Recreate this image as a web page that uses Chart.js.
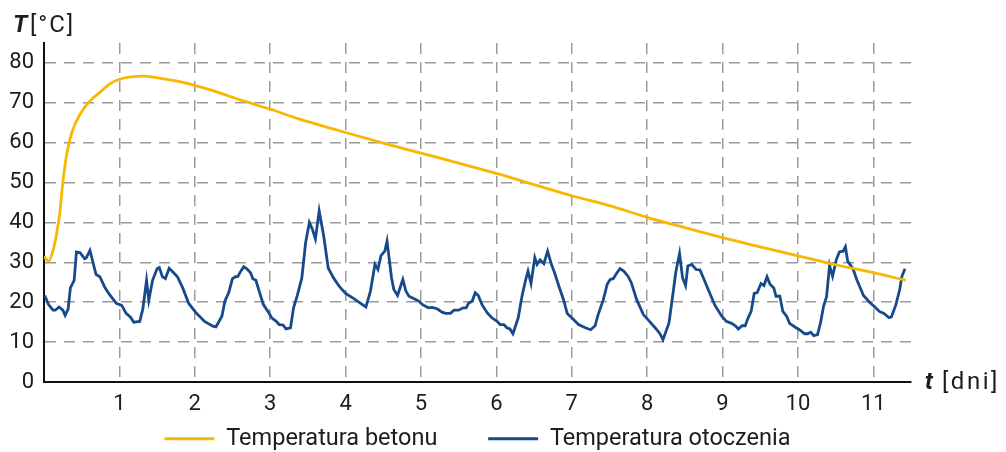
<!DOCTYPE html>
<html>
<head>
<meta charset="utf-8">
<script src="https://cdn.jsdelivr.net/npm/chart.js@4.4.0/dist/chart.umd.min.js"></script>
<style>
  html, body { margin: 0; padding: 0; background: #fff; }
</style>
</head>
<body>
<canvas id="tempChart" width="1006" height="452"></canvas>
<script>
// Temperatura betonu (dni, °C)
const dniBeton = [0, 0.06, 0.12, 0.17, 0.21, 0.25, 0.3, 0.37, 0.48, 0.61, 0.74, 0.87, 1.0, 1.15, 1.31, 1.53, 1.75,
  2.0, 2.28, 2.59, 3.0, 3.39, 3.92, 4.5, 5.0, 5.5, 6.0, 6.5, 7.0, 7.5, 8.0, 8.5, 9.0, 9.5, 10.0, 10.5, 11.0, 11.43];
const tempBeton = [31.5, 30.3, 33, 37.5, 42.5, 50, 57, 62.6, 67.2, 70.5, 72.6, 74.7, 75.9, 76.5, 76.7, 76.2, 75.5,
  74.4, 72.8, 70.8, 68.4, 65.9, 63.0, 59.9, 57.4, 54.9, 52.3, 49.5, 46.7, 44.2, 41.3, 38.7, 36.2, 33.9, 31.6, 29.4, 27.4, 25.5];

// Temperatura otoczenia (dni, °C)
const dniOtocz = [0.01, 0.06, 0.12, 0.15, 0.2, 0.25, 0.28, 0.32, 0.35, 0.4, 0.43, 0.48, 0.54, 0.56, 0.61, 0.69, 0.74, 0.81, 0.87, 0.96,
  1.03, 1.09, 1.15, 1.19, 1.27, 1.31, 1.36, 1.39, 1.44, 1.5, 1.53, 1.57, 1.61, 1.66, 1.71, 1.77, 1.84, 1.92,
  2.02, 2.13, 2.24, 2.28, 2.31, 2.36, 2.4, 2.45, 2.5, 2.54, 2.57, 2.61, 2.65, 2.69, 2.74, 2.77, 2.81, 2.86, 2.91, 2.97,
  3.02, 3.08, 3.12, 3.17, 3.21, 3.27, 3.31, 3.36, 3.42, 3.47, 3.52, 3.56, 3.6, 3.65, 3.71, 3.77, 3.84, 3.92,
  4.0, 4.11, 4.2, 4.27, 4.33, 4.39, 4.43, 4.47, 4.52, 4.55, 4.61, 4.64, 4.69, 4.73, 4.76, 4.8, 4.84, 4.91, 4.97,
  5.02, 5.1, 5.15, 5.22, 5.28, 5.33, 5.39, 5.44, 5.5, 5.56, 5.6, 5.63, 5.68, 5.72, 5.76, 5.81, 5.88, 5.94,
  6.01, 6.05, 6.1, 6.14, 6.18, 6.22, 6.29, 6.34, 6.39, 6.42, 6.46, 6.51, 6.54, 6.58, 6.63, 6.68, 6.73, 6.77, 6.83, 6.89, 6.94,
  7.0, 7.09, 7.18, 7.25, 7.31, 7.35, 7.42, 7.47, 7.51, 7.55, 7.6, 7.64, 7.69, 7.75, 7.79, 7.86, 7.95,
  8.04, 8.12, 8.17, 8.21, 8.29, 8.35, 8.38, 8.43, 8.47, 8.51, 8.54, 8.59, 8.65, 8.7, 8.74, 8.81, 8.9, 8.99,
  9.05, 9.12, 9.17, 9.21, 9.26, 9.3, 9.34, 9.38, 9.42, 9.46, 9.51, 9.55, 9.59, 9.63, 9.68, 9.71, 9.76, 9.8, 9.85, 9.89, 9.96,
  10.02, 10.09, 10.13, 10.17, 10.21, 10.26, 10.3, 10.34, 10.38, 10.42, 10.46, 10.51, 10.55, 10.6, 10.63, 10.66, 10.73, 10.78, 10.87, 10.95,
  11.01, 11.08, 11.14, 11.21, 11.24, 11.3, 11.35, 11.38, 11.42];
const tempOtocz = [21.7, 19.4, 18.0, 18.0, 18.8, 18.0, 16.7, 18.3, 23.6, 25.5, 32.6, 32.4, 30.9, 31.1, 33.0, 27.0, 26.4, 23.6, 21.9, 19.7,
  19.2, 17.2, 16.2, 15.0, 15.2, 18.2, 25.5, 20.5, 25.5, 28.4, 28.7, 26.4, 25.9, 28.5, 27.6, 26.4, 23.6, 19.7,
  17.3, 15.2, 14.0, 13.8, 14.8, 16.5, 20.3, 22.4, 25.9, 26.4, 26.4, 27.8, 28.9, 28.4, 27.4, 25.9, 25.5, 22.4, 19.4, 17.7,
  16.1, 15.2, 14.4, 14.3, 13.3, 13.6, 18.6, 21.7, 26.1, 34.9, 40.0, 38.3, 35.9, 42.9, 36.6, 28.6, 26.1, 23.9,
  22.2, 20.9, 19.7, 18.8, 22.8, 29.5, 28.2, 31.7, 32.8, 35.3, 26.1, 23.2, 21.7, 24.0, 25.7, 22.8, 21.5, 20.9, 20.3,
  19.4, 18.6, 18.7, 18.3, 17.5, 17.2, 17.2, 18.0, 18.0, 18.6, 18.6, 19.7, 20.3, 22.4, 21.7, 19.4, 17.3, 16.1,
  15.2, 14.4, 14.4, 13.6, 13.3, 12.1, 16.1, 21.5, 25.7, 27.8, 24.7, 31.2, 29.5, 30.6, 29.7, 32.8, 29.5, 27.5, 24.0, 20.7, 17.2,
  16.1, 14.4, 13.6, 13.1, 14.1, 16.9, 20.7, 24.5, 25.7, 25.9, 27.4, 28.4, 27.8, 26.4, 24.9, 20.7, 16.9,
  15.0, 13.3, 12.1, 10.6, 14.8, 23.2, 27.5, 32.2, 26.1, 24.2, 29.1, 29.5, 28.2, 28.1, 26.4, 23.2, 19.2, 16.5,
  15.2, 14.7, 14.1, 13.3, 14.1, 14.1, 16.1, 17.7, 22.2, 22.4, 24.7, 24.2, 26.4, 24.5, 23.6, 21.5, 21.5, 17.7, 16.5, 14.7, 13.8,
  13.1, 12.1, 12.1, 12.5, 11.6, 11.9, 14.8, 19.0, 21.4, 29.2, 26.5, 30.7, 32.6, 32.8, 33.9, 30.3, 28.4, 25.7, 21.7, 20.0,
  19.0, 17.7, 17.2, 16.1, 16.3, 19.4, 23.2, 26.5, 28.4];

const xTicks = [1, 2, 3, 4, 5, 6, 7, 8, 9, 10, 11];
const yTicks = [0, 10, 20, 30, 40, 50, 60, 70, 80];

const textColor = '#1d1d1b';
const gridColor = '#9a9a9a';

// Axis titles: "T [°C]" top-left, "t [dni]" at the right end of the x axis
const axisTitles = {
  id: 'axisTitles',
  afterDraw(chart) {
    const ctx = chart.ctx;
    const area = chart.chartArea;
    ctx.save();
    ctx.fillStyle = textColor;
    ctx.textAlign = 'left';
    ctx.textBaseline = 'alphabetic';

    ctx.font = 'italic bold 24px Roboto';
    ctx.fillText('T', 13, 32);
    ctx.font = '24px Roboto';
    ctx.letterSpacing = '2px';
    ctx.fillText('[°C]', 30, 32);

    ctx.letterSpacing = '0px';
    ctx.font = 'italic bold 24px Roboto';
    ctx.fillText('t', area.right + 14, area.bottom + 7);
    ctx.font = '24px Roboto';
    ctx.letterSpacing = '2.5px';
    ctx.fillText('[dni]', area.right + 31, area.bottom + 7);
    ctx.restore();
  }
};

const toPoints = (xs, ys) => xs.map((x, i) => ({ x: x, y: ys[i] }));

new Chart(document.getElementById('tempChart'), {
  type: 'line',
  data: {
    datasets: [
      {
        label: 'Temperatura betonu',
        data: toPoints(dniBeton, tempBeton),
        borderColor: '#f8b700',
        backgroundColor: '#f8b700',
        borderWidth: 2.8,
        pointRadius: 0,
        cubicInterpolationMode: 'monotone'
      },
      {
        label: 'Temperatura otoczenia',
        data: toPoints(dniOtocz, tempOtocz),
        borderColor: '#174a8b',
        backgroundColor: '#174a8b',
        borderWidth: 2.8,
        pointRadius: 0,
        tension: 0
      }
    ]
  },
  options: {
    responsive: false,
    animation: false,
    layout: { padding: { top: 43, right: 95, left: 0, bottom: -8.5 } },
    plugins: {
      tooltip: { enabled: false },
      legend: {
        position: 'bottom',
        fullSize: false,
        labels: {
          boxWidth: 50,
          boxHeight: 0,
          padding: 10,
          color: textColor,
          font: { family: 'Roboto', size: 23.5 },
          // extra room after the first entry, as in the original layout
          generateLabels: chart => Chart.defaults.plugins.legend.labels.generateLabels(chart)
            .map((item, i) => i === 0 ? Object.assign(item, { text: item.text + '       ' }) : item)
        }
      }
    },
    scales: {
      x: {
        type: 'linear',
        min: 0,
        max: 11.5,
        bounds: 'data',
        afterBuildTicks: s => { s.ticks = xTicks.map(v => ({ value: v })); },
        afterFit: s => { s.height = 35; },
        grid: { color: gridColor, lineWidth: 1.5, drawTicks: false },
        border: { color: '#111', width: 2, dash: [11, 8] },
        ticks: { color: textColor, padding: 9, font: { family: 'Roboto', size: 22 }, maxRotation: 0 }
      },
      y: {
        min: 0,
        max: 85,
        bounds: 'data',
        afterBuildTicks: s => { s.ticks = yTicks.map(v => ({ value: v })); },
        afterFit: s => { s.width = 44; },
        grid: { color: gridColor, lineWidth: 1.5, drawTicks: false },
        border: { color: '#111', width: 2, dash: [11, 8] },
        ticks: { color: textColor, padding: 10, font: { family: 'Roboto', size: 22 } }
      }
    }
  },
  plugins: [axisTitles]
});
</script>
</body>
</html>
